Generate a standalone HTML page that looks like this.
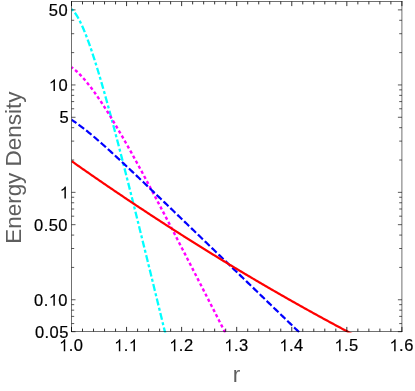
<!DOCTYPE html>
<html><head><meta charset="utf-8"><title>plot</title>
<style>
html,body{margin:0;padding:0;background:#fff;}
body{width:415px;height:391px;overflow:hidden;}
svg{display:block;will-change:transform;}
text{font-family:"Liberation Sans",sans-serif;}
</style></head><body>
<svg width="415" height="391" viewBox="0 0 415 391">
<rect width="415" height="391" fill="#fff"/>
<defs><clipPath id="c"><rect x="71.5" y="1.5" width="330.4" height="331.0"/></clipPath></defs>
<g clip-path="url(#c)" fill="none" stroke-width="2.2">
<path d="M71.5,9.06 72.5,9.96 73.5,11.03 74.5,12.25 75.5,13.62 76.5,15.13 77.5,16.77 78.5,18.54 79.5,20.42 80.5,22.42 81.5,24.53 82.5,26.74 83.5,29.05 84.5,31.46 85.5,33.94 86.5,36.52 87.5,39.17 88.5,41.89 89.5,44.69 90.5,47.56 91.5,50.49 92.5,53.48 93.5,56.53 94.5,59.63 95.5,62.78 96.5,65.99 97.5,69.24 98.5,72.54 99.5,75.88 100.5,79.26 101.5,82.67 102.5,86.13 103.5,89.61 104.5,93.13 105.5,96.69 106.5,100.27 107.5,103.88 108.5,107.51 109.5,111.17 110.5,114.86 111.5,118.56 112.5,122.29 113.5,126.04 114.5,129.81 115.5,133.60 116.5,137.40 117.5,141.22 118.5,145.06 119.5,148.91 120.5,152.78 121.5,156.66 122.5,160.55 123.5,164.46 124.5,168.37 125.5,172.30 126.5,176.24 127.5,180.18 128.5,184.14 129.5,188.11 130.5,192.08 131.5,196.06 132.5,200.05 133.5,204.05 134.5,208.05 135.5,212.06 136.5,216.08 137.5,220.10 138.5,224.13 139.5,228.16 140.5,232.20 141.5,236.25 142.5,240.29 143.5,244.35 144.5,248.40 145.5,252.46 146.5,256.53 147.5,260.59 148.5,264.66 149.5,268.74 150.5,272.81 151.5,276.89 152.5,280.97 153.5,285.06 154.5,289.15 155.5,293.24 156.5,297.33 157.5,301.42 158.5,305.52 159.5,309.61 160.5,313.71 161.5,317.81 162.5,321.92 163.5,326.02 164.5,330.13 165.5,334.23 166.5,338.34" stroke="#00ffff" stroke-width="2.3" stroke-dasharray="3.0 2.45 7.0 2.45" stroke-dashoffset="0.5"/>
<path d="M71.5,67.20 72.5,67.93 73.5,68.71 74.5,69.52 75.5,70.38 76.5,71.27 77.5,72.19 78.5,73.15 79.5,74.14 80.5,75.17 81.5,76.22 82.5,77.31 83.5,78.43 84.5,79.57 85.5,80.74 86.5,81.94 87.5,83.16 88.5,84.41 89.5,85.68 90.5,86.97 91.5,88.29 92.5,89.63 93.5,90.99 94.5,92.37 95.5,93.77 96.5,95.18 97.5,96.62 98.5,98.07 99.5,99.54 100.5,101.03 101.5,102.53 102.5,104.05 103.5,105.58 104.5,107.13 105.5,108.69 106.5,110.27 107.5,111.85 108.5,113.45 109.5,115.07 110.5,116.69 111.5,118.33 112.5,119.97 113.5,121.63 114.5,123.30 115.5,124.97 116.5,126.66 117.5,128.36 118.5,130.06 119.5,131.78 120.5,133.50 121.5,135.23 122.5,136.97 123.5,138.71 124.5,140.47 125.5,142.23 126.5,144.00 127.5,145.77 128.5,147.55 129.5,149.34 130.5,151.13 131.5,152.93 132.5,154.73 133.5,156.54 134.5,158.36 135.5,160.18 136.5,162.00 137.5,163.83 138.5,165.66 139.5,167.50 140.5,169.34 141.5,171.19 142.5,173.04 143.5,174.90 144.5,176.76 145.5,178.62 146.5,180.48 147.5,182.35 148.5,184.23 149.5,186.10 150.5,187.98 151.5,189.86 152.5,191.75 153.5,193.63 154.5,195.52 155.5,197.41 156.5,199.31 157.5,201.21 158.5,203.11 159.5,205.01 160.5,206.91 161.5,208.82 162.5,210.73 163.5,212.64 164.5,214.55 165.5,216.46 166.5,218.38 167.5,220.30 168.5,222.22 169.5,224.14 170.5,226.06 171.5,227.98 172.5,229.91 173.5,231.84 174.5,233.77 175.5,235.69 176.5,237.63 177.5,239.56 178.5,241.49 179.5,243.43 180.5,245.36 181.5,247.30 182.5,249.24 183.5,251.17 184.5,253.11 185.5,255.05 186.5,257.00 187.5,258.94 188.5,260.88 189.5,262.83 190.5,264.77 191.5,266.72 192.5,268.66 193.5,270.61 194.5,272.56 195.5,274.51 196.5,276.46 197.5,278.41 198.5,280.36 199.5,282.31 200.5,284.26 201.5,286.21 202.5,288.16 203.5,290.12 204.5,292.07 205.5,294.02 206.5,295.98 207.5,297.93 208.5,299.89 209.5,301.85 210.5,303.80 211.5,305.76 212.5,307.72 213.5,309.67 214.5,311.63 215.5,313.59 216.5,315.55 217.5,317.51 218.5,319.47 219.5,321.43 220.5,323.39 221.5,325.35 222.5,327.31 223.5,329.27 224.5,331.23 225.5,333.19 226.5,335.15 227.5,337.11" stroke="#ff00ff" stroke-width="2.4" stroke-dasharray="3.2 2.57" stroke-dashoffset="1.2"/>
<path d="M71.5,119.80 72.5,120.44 73.5,121.10 74.5,121.77 75.5,122.45 76.5,123.14 77.5,123.85 78.5,124.57 79.5,125.30 80.5,126.04 81.5,126.79 82.5,127.55 83.5,128.32 84.5,129.10 85.5,129.88 86.5,130.68 87.5,131.48 88.5,132.29 89.5,133.11 90.5,133.93 91.5,134.76 92.5,135.59 93.5,136.43 94.5,137.28 95.5,138.13 96.5,138.99 97.5,139.85 98.5,140.72 99.5,141.59 100.5,142.46 101.5,143.34 102.5,144.23 103.5,145.11 104.5,146.00 105.5,146.90 106.5,147.79 107.5,148.69 108.5,149.59 109.5,150.50 110.5,151.41 111.5,152.32 112.5,153.23 113.5,154.15 114.5,155.06 115.5,155.98 116.5,156.91 117.5,157.83 118.5,158.75 119.5,159.68 120.5,160.61 121.5,161.54 122.5,162.47 123.5,163.41 124.5,164.34 125.5,165.28 126.5,166.22 127.5,167.15 128.5,168.09 129.5,169.03 130.5,169.98 131.5,170.92 132.5,171.86 133.5,172.81 134.5,173.75 135.5,174.70 136.5,175.65 137.5,176.60 138.5,177.55 139.5,178.50 140.5,179.45 141.5,180.40 142.5,181.35 143.5,182.30 144.5,183.25 145.5,184.21 146.5,185.16 147.5,186.12 148.5,187.07 149.5,188.03 150.5,188.98 151.5,189.94 152.5,190.89 153.5,191.85 154.5,192.81 155.5,193.77 156.5,194.72 157.5,195.68 158.5,196.64 159.5,197.60 160.5,198.56 161.5,199.52 162.5,200.48 163.5,201.44 164.5,202.40 165.5,203.36 166.5,204.32 167.5,205.28 168.5,206.24 169.5,207.20 170.5,208.16 171.5,209.12 172.5,210.08 173.5,211.05 174.5,212.01 175.5,212.97 176.5,213.93 177.5,214.89 178.5,215.86 179.5,216.82 180.5,217.78 181.5,218.74 182.5,219.71 183.5,220.67 184.5,221.63 185.5,222.60 186.5,223.56 187.5,224.52 188.5,225.48 189.5,226.45 190.5,227.41 191.5,228.37 192.5,229.34 193.5,230.30 194.5,231.27 195.5,232.23 196.5,233.19 197.5,234.16 198.5,235.12 199.5,236.08 200.5,237.05 201.5,238.01 202.5,238.98 203.5,239.94 204.5,240.90 205.5,241.87 206.5,242.83 207.5,243.80 208.5,244.76 209.5,245.72 210.5,246.69 211.5,247.65 212.5,248.62 213.5,249.58 214.5,250.55 215.5,251.51 216.5,252.47 217.5,253.44 218.5,254.40 219.5,255.37 220.5,256.33 221.5,257.30 222.5,258.26 223.5,259.23 224.5,260.19 225.5,261.15 226.5,262.12 227.5,263.08 228.5,264.05 229.5,265.01 230.5,265.98 231.5,266.94 232.5,267.91 233.5,268.87 234.5,269.84 235.5,270.80 236.5,271.76 237.5,272.73 238.5,273.69 239.5,274.66 240.5,275.62 241.5,276.59 242.5,277.55 243.5,278.52 244.5,279.48 245.5,280.45 246.5,281.41 247.5,282.38 248.5,283.34 249.5,284.31 250.5,285.27 251.5,286.23 252.5,287.20 253.5,288.16 254.5,289.13 255.5,290.09 256.5,291.06 257.5,292.02 258.5,292.99 259.5,293.95 260.5,294.92 261.5,295.88 262.5,296.85 263.5,297.81 264.5,298.78 265.5,299.74 266.5,300.71 267.5,301.67 268.5,302.64 269.5,303.60 270.5,304.56 271.5,305.53 272.5,306.49 273.5,307.46 274.5,308.42 275.5,309.39 276.5,310.35 277.5,311.32 278.5,312.28 279.5,313.25 280.5,314.21 281.5,315.18 282.5,316.14 283.5,317.11 284.5,318.07 285.5,319.04 286.5,320.00 287.5,320.97 288.5,321.93 289.5,322.90 290.5,323.86 291.5,324.83 292.5,325.79 293.5,326.75 294.5,327.72 295.5,328.68 296.5,329.65 297.5,330.61 298.5,331.58 299.5,332.54 300.5,333.51 301.5,334.47 302.5,335.44 303.5,336.40" stroke="#0000ff" stroke-dasharray="6.9 2.65" stroke-dashoffset="1.0"/>
<path d="M71.5,161.06 72.5,161.77 73.5,162.47 74.5,163.17 75.5,163.88 76.5,164.58 77.5,165.28 78.5,165.98 79.5,166.68 80.5,167.38 81.5,168.08 82.5,168.78 83.5,169.48 84.5,170.18 85.5,170.87 86.5,171.57 87.5,172.26 88.5,172.96 89.5,173.65 90.5,174.35 91.5,175.04 92.5,175.73 93.5,176.42 94.5,177.11 95.5,177.81 96.5,178.49 97.5,179.18 98.5,179.87 99.5,180.56 100.5,181.25 101.5,181.93 102.5,182.62 103.5,183.31 104.5,183.99 105.5,184.67 106.5,185.36 107.5,186.04 108.5,186.72 109.5,187.40 110.5,188.09 111.5,188.77 112.5,189.45 113.5,190.12 114.5,190.80 115.5,191.48 116.5,192.16 117.5,192.83 118.5,193.51 119.5,194.18 120.5,194.86 121.5,195.53 122.5,196.21 123.5,196.88 124.5,197.55 125.5,198.22 126.5,198.89 127.5,199.56 128.5,200.23 129.5,200.90 130.5,201.57 131.5,202.24 132.5,202.90 133.5,203.57 134.5,204.24 135.5,204.90 136.5,205.57 137.5,206.23 138.5,206.89 139.5,207.56 140.5,208.22 141.5,208.88 142.5,209.54 143.5,210.20 144.5,210.86 145.5,211.52 146.5,212.18 147.5,212.83 148.5,213.49 149.5,214.15 150.5,214.80 151.5,215.46 152.5,216.11 153.5,216.76 154.5,217.42 155.5,218.07 156.5,218.72 157.5,219.37 158.5,220.02 159.5,220.67 160.5,221.32 161.5,221.97 162.5,222.62 163.5,223.27 164.5,223.91 165.5,224.56 166.5,225.20 167.5,225.85 168.5,226.49 169.5,227.14 170.5,227.78 171.5,228.42 172.5,229.06 173.5,229.70 174.5,230.34 175.5,230.98 176.5,231.62 177.5,232.26 178.5,232.90 179.5,233.54 180.5,234.17 181.5,234.81 182.5,235.44 183.5,236.08 184.5,236.71 185.5,237.35 186.5,237.98 187.5,238.61 188.5,239.24 189.5,239.87 190.5,240.50 191.5,241.13 192.5,241.76 193.5,242.39 194.5,243.02 195.5,243.64 196.5,244.27 197.5,244.90 198.5,245.52 199.5,246.15 200.5,246.77 201.5,247.39 202.5,248.01 203.5,248.64 204.5,249.26 205.5,249.88 206.5,250.50 207.5,251.12 208.5,251.74 209.5,252.35 210.5,252.97 211.5,253.59 212.5,254.21 213.5,254.82 214.5,255.44 215.5,256.05 216.5,256.66 217.5,257.28 218.5,257.89 219.5,258.50 220.5,259.11 221.5,259.72 222.5,260.33 223.5,260.94 224.5,261.55 225.5,262.16 226.5,262.77 227.5,263.37 228.5,263.98 229.5,264.58 230.5,265.19 231.5,265.79 232.5,266.40 233.5,267.00 234.5,267.60 235.5,268.20 236.5,268.80 237.5,269.40 238.5,270.00 239.5,270.60 240.5,271.20 241.5,271.80 242.5,272.40 243.5,272.99 244.5,273.59 245.5,274.18 246.5,274.78 247.5,275.37 248.5,275.97 249.5,276.56 250.5,277.15 251.5,277.74 252.5,278.33 253.5,278.92 254.5,279.51 255.5,280.10 256.5,280.69 257.5,281.28 258.5,281.87 259.5,282.45 260.5,283.04 261.5,283.62 262.5,284.21 263.5,284.79 264.5,285.37 265.5,285.96 266.5,286.54 267.5,287.12 268.5,287.70 269.5,288.28 270.5,288.86 271.5,289.44 272.5,290.02 273.5,290.59 274.5,291.17 275.5,291.75 276.5,292.32 277.5,292.90 278.5,293.47 279.5,294.05 280.5,294.62 281.5,295.19 282.5,295.76 283.5,296.33 284.5,296.91 285.5,297.48 286.5,298.04 287.5,298.61 288.5,299.18 289.5,299.75 290.5,300.32 291.5,300.88 292.5,301.45 293.5,302.01 294.5,302.58 295.5,303.14 296.5,303.70 297.5,304.26 298.5,304.83 299.5,305.39 300.5,305.95 301.5,306.51 302.5,307.07 303.5,307.63 304.5,308.18 305.5,308.74 306.5,309.30 307.5,309.85 308.5,310.41 309.5,310.96 310.5,311.52 311.5,312.07 312.5,312.62 313.5,313.18 314.5,313.73 315.5,314.28 316.5,314.83 317.5,315.38 318.5,315.93 319.5,316.47 320.5,317.02 321.5,317.57 322.5,318.12 323.5,318.66 324.5,319.21 325.5,319.75 326.5,320.30 327.5,320.84 328.5,321.38 329.5,321.92 330.5,322.46 331.5,323.01 332.5,323.55 333.5,324.08 334.5,324.62 335.5,325.16 336.5,325.70 337.5,326.24 338.5,326.77 339.5,327.31 340.5,327.84 341.5,328.38 342.5,328.91 343.5,329.44 344.5,329.98 345.5,330.51 346.5,331.04 347.5,331.57 348.5,332.10 349.5,332.63 350.5,333.16 351.5,333.69 352.5,334.21 353.5,334.74 354.5,335.27 355.5,335.79" stroke="#ff0000"/>
</g>
<g stroke="#000" stroke-opacity="0.56" stroke-width="1" fill="none">
<line x1="71.5" y1="1.0" x2="71.5" y2="332.0"/>
<line x1="401.9" y1="1.0" x2="401.9" y2="332.0"/>
<line x1="71.0" y1="1.5" x2="402.4" y2="1.5"/>
<line x1="71.0" y1="331.5" x2="402.4" y2="331.5"/>
</g>
<g stroke="#000" stroke-opacity="0.8" stroke-width="1" fill="none">
<path d="M71.50,331.50L71.50,326.90M71.50,1.50L71.50,6.10M82.51,331.50L82.51,328.60M82.51,1.50L82.51,4.40M93.53,331.50L93.53,328.60M93.53,1.50L93.53,4.40M104.54,331.50L104.54,328.60M104.54,1.50L104.54,4.40M115.55,331.50L115.55,328.60M115.55,1.50L115.55,4.40M126.57,331.50L126.57,326.90M126.57,1.50L126.57,6.10M137.58,331.50L137.58,328.60M137.58,1.50L137.58,4.40M148.59,331.50L148.59,328.60M148.59,1.50L148.59,4.40M159.61,331.50L159.61,328.60M159.61,1.50L159.61,4.40M170.62,331.50L170.62,328.60M170.62,1.50L170.62,4.40M181.63,331.50L181.63,326.90M181.63,1.50L181.63,6.10M192.65,331.50L192.65,328.60M192.65,1.50L192.65,4.40M203.66,331.50L203.66,328.60M203.66,1.50L203.66,4.40M214.67,331.50L214.67,328.60M214.67,1.50L214.67,4.40M225.69,331.50L225.69,328.60M225.69,1.50L225.69,4.40M236.70,331.50L236.70,326.90M236.70,1.50L236.70,6.10M247.71,331.50L247.71,328.60M247.71,1.50L247.71,4.40M258.73,331.50L258.73,328.60M258.73,1.50L258.73,4.40M269.74,331.50L269.74,328.60M269.74,1.50L269.74,4.40M280.75,331.50L280.75,328.60M280.75,1.50L280.75,4.40M291.77,331.50L291.77,326.90M291.77,1.50L291.77,6.10M302.78,331.50L302.78,328.60M302.78,1.50L302.78,4.40M313.79,331.50L313.79,328.60M313.79,1.50L313.79,4.40M324.81,331.50L324.81,328.60M324.81,1.50L324.81,4.40M335.82,331.50L335.82,328.60M335.82,1.50L335.82,4.40M346.83,331.50L346.83,326.90M346.83,1.50L346.83,6.10M357.85,331.50L357.85,328.60M357.85,1.50L357.85,4.40M368.86,331.50L368.86,328.60M368.86,1.50L368.86,4.40M379.87,331.50L379.87,328.60M379.87,1.50L379.87,4.40M390.89,331.50L390.89,328.60M390.89,1.50L390.89,4.40M401.90,331.50L401.90,326.90M401.90,1.50L401.90,6.10"/>
</g>
<g stroke="#000" stroke-opacity="0.65" stroke-width="1" fill="none">
<path d="M71.50,331.70L75.50,331.70M401.90,331.70L397.90,331.70M71.50,323.58L74.20,323.58M401.90,323.58L399.20,323.58M71.50,316.39L74.20,316.39M401.90,316.39L399.20,316.39M71.50,310.16L74.20,310.16M401.90,310.16L399.20,310.16M71.50,304.66L74.20,304.66M401.90,304.66L399.20,304.66M71.50,299.75L75.50,299.75M401.90,299.75L397.90,299.75M71.50,267.42L74.20,267.42M401.90,267.42L399.20,267.42M71.50,248.51L74.20,248.51M401.90,248.51L399.20,248.51M71.50,235.09L74.20,235.09M401.90,235.09L399.20,235.09M71.50,224.68L75.50,224.68M401.90,224.68L397.90,224.68M71.50,216.18L74.20,216.18M401.90,216.18L399.20,216.18M71.50,208.99L74.20,208.99M401.90,208.99L399.20,208.99M71.50,202.76L74.20,202.76M401.90,202.76L399.20,202.76M71.50,197.26L74.20,197.26M401.90,197.26L399.20,197.26M71.50,192.35L75.50,192.35M401.90,192.35L397.90,192.35M71.50,160.02L74.20,160.02M401.90,160.02L399.20,160.02M71.50,141.11L74.20,141.11M401.90,141.11L399.20,141.11M71.50,127.69L74.20,127.69M401.90,127.69L399.20,127.69M71.50,117.28L75.50,117.28M401.90,117.28L397.90,117.28M71.50,108.78L74.20,108.78M401.90,108.78L399.20,108.78M71.50,101.59L74.20,101.59M401.90,101.59L399.20,101.59M71.50,95.36L74.20,95.36M401.90,95.36L399.20,95.36M71.50,89.86L74.20,89.86M401.90,89.86L399.20,89.86M71.50,84.95L75.50,84.95M401.90,84.95L397.90,84.95M71.50,52.62L74.20,52.62M401.90,52.62L399.20,52.62M71.50,33.71L74.20,33.71M401.90,33.71L399.20,33.71M71.50,20.29L74.20,20.29M401.90,20.29L399.20,20.29M71.50,9.88L75.50,9.88M401.90,9.88L397.90,9.88"/>
</g>
<g font-size="16.5" fill="#000" stroke="#000" stroke-width="0.2">
<text x="34.94" y="338.18">0</text><text x="44.57" y="338.18">.</text><text x="49.60" y="338.18">0</text><text x="59.23" y="338.18">5</text>
<text x="34.04" y="305.85">0</text><text x="43.66" y="305.85">.</text><path transform="translate(48.70,305.85) scale(0.008057)" d="M763 0H583V-1147Q518 -1085 412.5 -1023Q307 -961 223 -930V-1104Q374 -1175 487 -1276Q600 -1377 647 -1472H763Z" stroke="none"/><text x="58.33" y="305.85">0</text>
<text x="34.04" y="230.78">0</text><text x="43.66" y="230.78">.</text><text x="48.70" y="230.78">5</text><text x="58.33" y="230.78">0</text>
<path transform="translate(59.73,198.45) scale(0.008057)" d="M763 0H583V-1147Q518 -1085 412.5 -1023Q307 -961 223 -930V-1104Q374 -1175 487 -1276Q600 -1377 647 -1472H763Z" stroke="none"/>
<text x="59.43" y="123.38">5</text>
<path transform="translate(48.80,91.05) scale(0.008057)" d="M763 0H583V-1147Q518 -1085 412.5 -1023Q307 -961 223 -930V-1104Q374 -1175 487 -1276Q600 -1377 647 -1472H763Z" stroke="none"/><text x="58.43" y="91.05">0</text>
<text x="48.80" y="15.98">5</text><text x="58.43" y="15.98">0</text>
<path transform="translate(59.08,351.20) scale(0.008057)" d="M763 0H583V-1147Q518 -1085 412.5 -1023Q307 -961 223 -930V-1104Q374 -1175 487 -1276Q600 -1377 647 -1472H763Z" stroke="none"/><text x="68.71" y="351.20">.</text><text x="73.74" y="351.20">0</text>
<path transform="translate(114.15,351.20) scale(0.008057)" d="M763 0H583V-1147Q518 -1085 412.5 -1023Q307 -961 223 -930V-1104Q374 -1175 487 -1276Q600 -1377 647 -1472H763Z" stroke="none"/><text x="123.77" y="351.20">.</text><path transform="translate(128.81,351.20) scale(0.008057)" d="M763 0H583V-1147Q518 -1085 412.5 -1023Q307 -961 223 -930V-1104Q374 -1175 487 -1276Q600 -1377 647 -1472H763Z" stroke="none"/>
<path transform="translate(169.22,351.20) scale(0.008057)" d="M763 0H583V-1147Q518 -1085 412.5 -1023Q307 -961 223 -930V-1104Q374 -1175 487 -1276Q600 -1377 647 -1472H763Z" stroke="none"/><text x="178.84" y="351.20">.</text><text x="183.88" y="351.20">2</text>
<path transform="translate(224.28,351.20) scale(0.008057)" d="M763 0H583V-1147Q518 -1085 412.5 -1023Q307 -961 223 -930V-1104Q374 -1175 487 -1276Q600 -1377 647 -1472H763Z" stroke="none"/><text x="233.91" y="351.20">.</text><text x="238.94" y="351.20">3</text>
<path transform="translate(279.35,351.20) scale(0.008057)" d="M763 0H583V-1147Q518 -1085 412.5 -1023Q307 -961 223 -930V-1104Q374 -1175 487 -1276Q600 -1377 647 -1472H763Z" stroke="none"/><text x="288.97" y="351.20">.</text><text x="294.01" y="351.20">4</text>
<path transform="translate(334.42,351.20) scale(0.008057)" d="M763 0H583V-1147Q518 -1085 412.5 -1023Q307 -961 223 -930V-1104Q374 -1175 487 -1276Q600 -1377 647 -1472H763Z" stroke="none"/><text x="344.04" y="351.20">.</text><text x="349.08" y="351.20">5</text>
<path transform="translate(389.48,351.20) scale(0.008057)" d="M763 0H583V-1147Q518 -1085 412.5 -1023Q307 -961 223 -930V-1104Q374 -1175 487 -1276Q600 -1377 647 -1472H763Z" stroke="none"/><text x="399.11" y="351.20">.</text><text x="404.14" y="351.20">6</text>
</g>
<text x="236.6" y="382.4" font-size="22.5" fill="#5e5e5e" text-anchor="middle">r</text>
<text transform="translate(20.8,167.7) rotate(-90) scale(1,1.02)" font-size="22.45" fill="#5e5e5e" text-anchor="middle">Energy Density</text>
</svg>
</body></html>
